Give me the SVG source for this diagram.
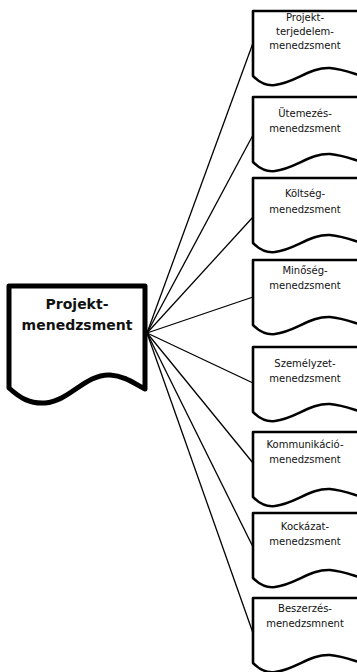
<svg xmlns="http://www.w3.org/2000/svg" width="357" height="672" viewBox="0 0 357 672">
<style>
.bg{fill:#ffffff}
.main{fill:#ffffff;stroke:#000;stroke-width:5;stroke-linejoin:round}
.doc{fill:#ffffff;stroke:#000;stroke-width:2.6;stroke-linejoin:round}
.conn line{stroke:#000;stroke-width:1.3}
.mt{font-family:"DejaVu Sans",Verdana,sans-serif;font-size:14px;font-weight:bold;text-anchor:middle;fill:#111}
.t{font-family:"DejaVu Sans",Verdana,sans-serif;font-size:10px;text-anchor:middle;fill:#111}
</style>
<defs>
<path id="docshape" d="M253,65 V0 H362 V65 C352,62 342,58 330,57 C310,56 295,72 275,74 C266,75 260,72 253,65 Z"/>
</defs>
<rect class="bg" x="0" y="0" width="357" height="672"/>
<g id="connectors" class="conn">
<line x1="147" y1="333" x2="253" y2="43"/>
<line x1="147" y1="333" x2="253" y2="135"/>
<line x1="147" y1="333" x2="253" y2="217"/>
<line x1="147" y1="333" x2="253" y2="297"/>
<line x1="147" y1="333" x2="253" y2="383"/>
<line x1="147" y1="333" x2="253" y2="463"/>
<line x1="147" y1="333" x2="253" y2="547"/>
<line x1="147" y1="333" x2="253" y2="633"/>
</g>
<g id="main">
<path class="main" d="M9,388 V286 H145 V389 C135,384 125,376 110,375 C85,374 70,401 45,403 C30,404 20,398 9,388 Z"/>
<text class="mt" x="77" y="309">Projekt-</text>
<text class="mt" x="77" y="330">menedzsment</text>
</g>
<g id="n1" transform="translate(0,11)">
<use href="#docshape" class="doc"/>
<text class="t" x="305" y="10">Projekt-</text>
<text class="t" x="305" y="24">terjedelem-</text>
<text class="t" x="305" y="38">menedzsment</text>
</g>
<g id="n2" transform="translate(0,97)">
<use href="#docshape" class="doc"/>
<text class="t" x="305" y="20">Ütemezés-</text>
<text class="t" x="305" y="35">menedzsment</text>
</g>
<g id="n3" transform="translate(0,178)">
<use href="#docshape" class="doc"/>
<text class="t" x="305" y="19">Költség-</text>
<text class="t" x="305" y="35">menedzsment</text>
</g>
<g id="n4" transform="translate(0,260)">
<use href="#docshape" class="doc"/>
<text class="t" x="305" y="14">Minőség-</text>
<text class="t" x="305" y="29">menedzsment</text>
</g>
<g id="n5" transform="translate(0,347)">
<use href="#docshape" class="doc"/>
<text class="t" x="305" y="20">Személyzet-</text>
<text class="t" x="305" y="35">menedzsment</text>
</g>
<g id="n6" transform="translate(0,432)">
<use href="#docshape" class="doc"/>
<text class="t" x="305" y="16">Kommunikáció-</text>
<text class="t" x="305" y="31">menedzsment</text>
</g>
<g id="n7" transform="translate(0,513)">
<use href="#docshape" class="doc"/>
<text class="t" x="305" y="17">Kockázat-</text>
<text class="t" x="305" y="32">menedzsment</text>
</g>
<g id="n8" transform="translate(0,598)">
<use href="#docshape" class="doc"/>
<text class="t" x="305" y="14">Beszerzés-</text>
<text class="t" x="305" y="29">menedzsmnent</text>
</g>
</svg>
